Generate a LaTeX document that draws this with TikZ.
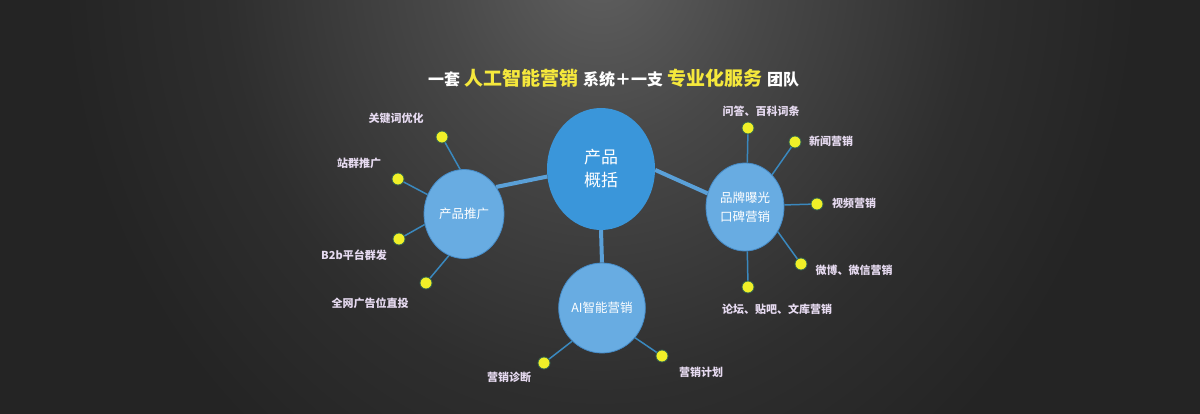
\documentclass[tikz,border=0pt]{standalone}
\usepackage{fontspec}
\setmainfont{Noto Sans CJK SC}
\usetikzlibrary{shapes.geometric}
\definecolor{bgin}{RGB}{96,96,96}
\definecolor{bgmid}{RGB}{72,72,72}
\definecolor{bgmid2}{RGB}{46,46,46}
\definecolor{bgout}{RGB}{36,36,36}
\definecolor{hubblue}{RGB}{58,150,218}
\definecolor{subblue}{RGB}{104,172,226}
\definecolor{subedge}{RGB}{70,140,200}
\definecolor{spokecol}{RGB}{58,136,190}
\definecolor{trunkcol}{RGB}{90,160,216}
\definecolor{dotyellow}{RGB}{240,240,40}
\definecolor{dotedge}{RGB}{50,100,80}
\definecolor{lblcol}{RGB}{230,218,240}
\definecolor{ttlyellow}{RGB}{245,232,60}
\pgfdeclareradialshading{bgshade}{\pgfpoint{0bp}{0bp}}{color(0bp)=(bgin); color(7.5bp)=(bgmid); color(17.5bp)=(bgmid2); color(25bp)=(bgout); color(50bp)=(bgout)}
\begin{document}
\begin{tikzpicture}[x=1pt,y=-1pt,
  hub/.style={ellipse, fill=hubblue, inner sep=0pt, text=white, font=\fontsize{17}{23}\selectfont, align=center},
  sub/.style={ellipse, fill=subblue, draw=subedge, line width=0.8pt, inner sep=0pt, text=white, font=\fontsize{12.5}{19}\selectfont, align=center},
  ydot/.style={circle, fill=dotyellow, draw=dotedge, line width=0.8pt, minimum size=12pt, inner sep=0pt},
  lbl/.style={text=lblcol, font=\bfseries\fontsize{11}{13}\selectfont, inner sep=0pt},
  spoke/.style={draw=spokecol, line width=1.5pt},
  trunk/.style={draw=trunkcol, line width=4pt}]
\useasboundingbox (0,0) rectangle (1200,414);
\begin{scope}
\clip (0,0) rectangle (1200,414);
\fill[bgout] (0,0) rectangle (1200,414);
\shade[shading=bgshade] (600,-40) ellipse (540 and 620);
\end{scope}

% title
\node[anchor=west, inner sep=0pt, text=white, font=\bfseries] (title) at (428,78) {{\fontsize{16}{16}\selectfont 一套}\hspace{4pt}{\fontsize{19}{19}\selectfont\color{ttlyellow}人工智能营销}\hspace{5pt}{\fontsize{16}{16}\selectfont 系统＋一支}\hspace{4pt}{\fontsize{19}{19}\selectfont\color{ttlyellow}专业化服务}\hspace{5pt}{\fontsize{16}{16}\selectfont 团队}};

% main nodes
\node[hub, minimum width=108pt, minimum height=122pt] (C) at (601,169) {产品\\概括};
\node[sub, minimum width=80pt, minimum height=89pt] (L) at (464,214) {产品推广};
\node[sub, minimum width=78pt, minimum height=88pt] (R) at (745,207) {品牌曝光\\口碑营销};
\node[sub, minimum width=80pt, minimum height=90pt] (B) at (602,308) {AI智能营销};

% trunks
\draw[trunk] (L.40) -- (C.188);
\draw[trunk] (C.-1) -- (R.160);
\draw[trunk] (C.270) -- (B.90);

% left satellites
\node[ydot] (l1) at (442,137) {};
\node[ydot] (l2) at (398,179) {};
\node[ydot] (l3) at (399,239) {};
\node[ydot] (l4) at (426,283) {};
\node[lbl] (tl1) at (396,118) {关键词优化};
\node[lbl] (tl2) at (359,163) {站群推广};
\node[lbl] (tl3) at (354,255) {B2b平台群发};
\node[lbl] (tl4) at (370,303) {全网广告位直投};
\draw[spoke] (l1) -- (L.95);
\draw[spoke] (l2) -- (L.152);
\draw[spoke] (l3) -- (L.195);
\draw[spoke] (l4) -- (L.250);

% right satellites
\node[ydot] (r1) at (748,128) {};
\node[ydot] (r2) at (795,142) {};
\node[ydot] (r3) at (817,204) {};
\node[ydot] (r4) at (801,264) {};
\node[ydot] (r5) at (748,287) {};
\node[lbl] (tr1) at (761,111) {问答、百科词条};
\node[lbl] (tr2) at (831,141) {新闻营销};
\node[lbl] (tr3) at (854,203) {视频营销};
\node[lbl] (tr4) at (854,270) {微博、微信营销};
\node[lbl] (tr5) at (777,309) {论坛、贴吧、文库营销};
\draw[spoke] (r1) -- (R.87);
\draw[spoke] (r2) -- (R.50);
\draw[spoke] (r3) -- (R.3);
\draw[spoke] (r4) -- (R.-37);
\draw[spoke] (r5) -- (R.-87);

% bottom satellites
\node[ydot] (b1) at (544,363) {};
\node[ydot] (b2) at (662,356) {};
\node[lbl] (tb1) at (509,377) {营销诊断};
\node[lbl] (tb2) at (701,372) {营销计划};
\draw[spoke] (b1) -- (B.228);
\draw[spoke] (b2) -- (B.-42);
\end{tikzpicture}
\end{document}
